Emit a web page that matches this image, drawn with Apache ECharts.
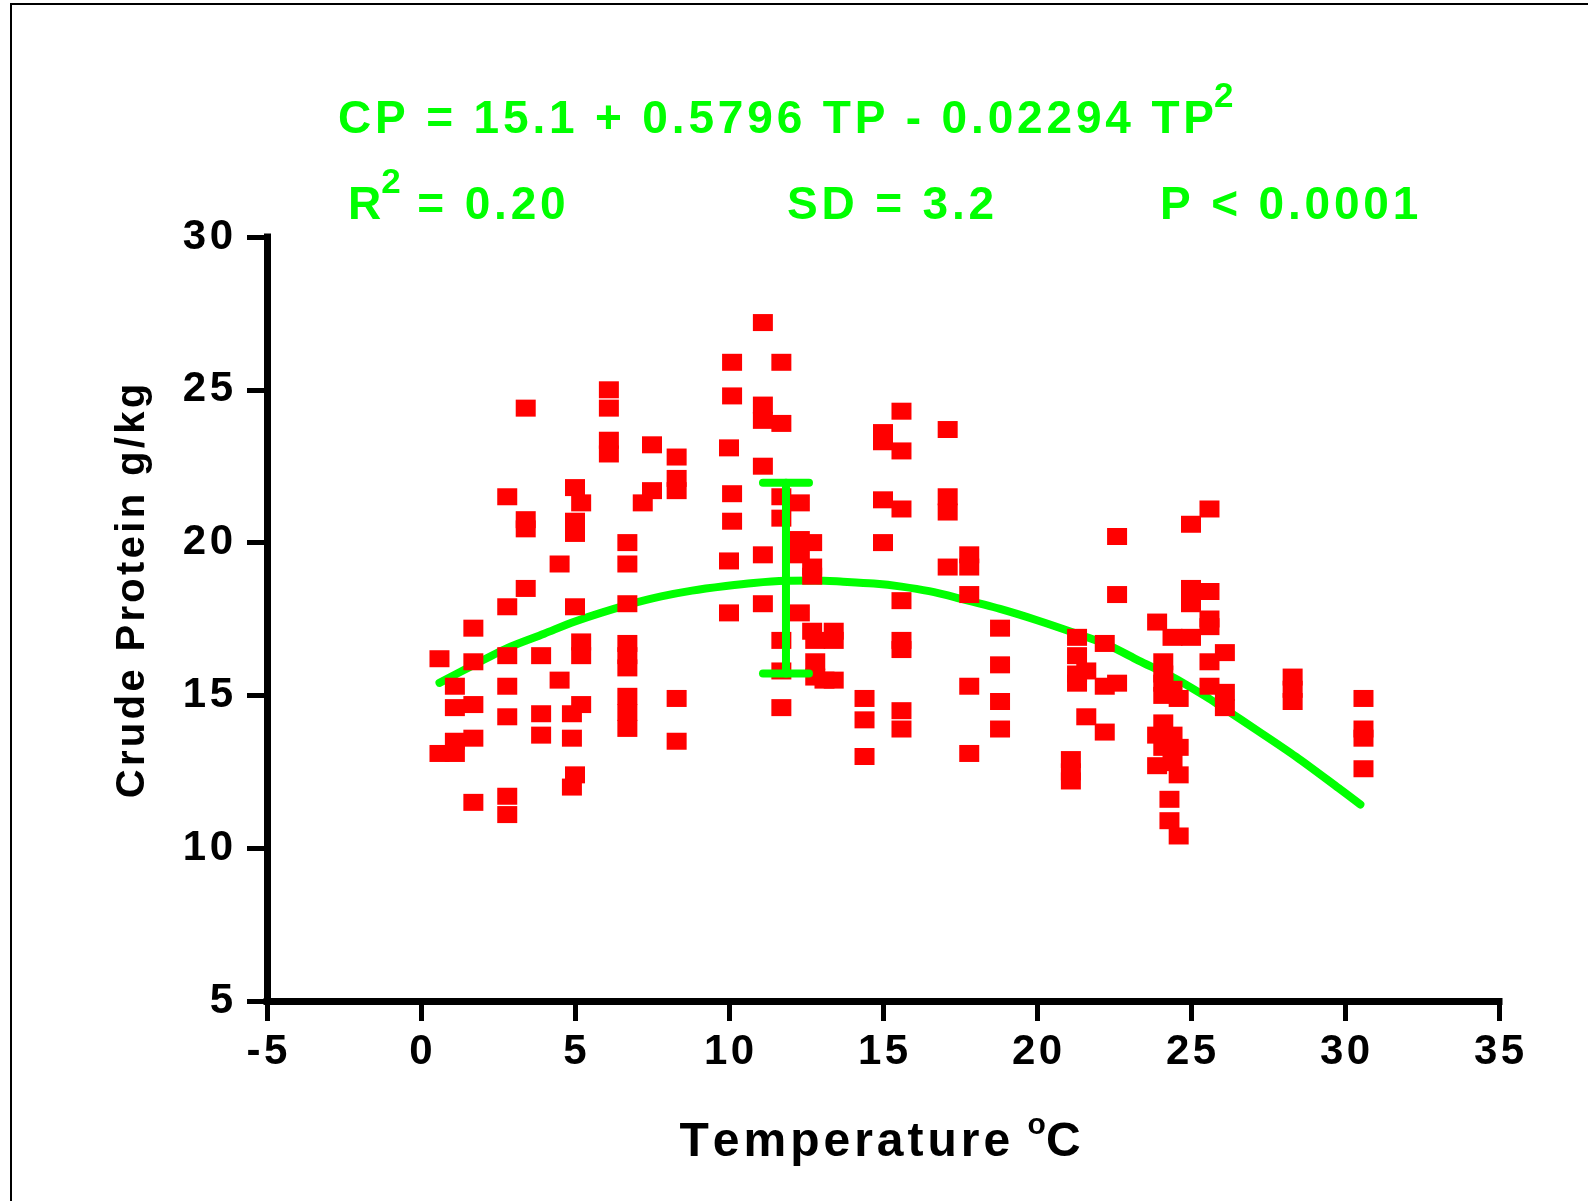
<!DOCTYPE html>
<html>
<head>
<meta charset="utf-8">
<script src="https://cdn.jsdelivr.net/npm/echarts@6/dist/echarts.min.js"></script>
<style>
html,body{margin:0;padding:0;background:#fff;}
#chart{width:1588px;height:1201px;}
</style>
</head>
<body>
<div id="chart"></div>
<script>
// ---- data ----
const xTicks = [-5, 0, 5, 10, 15, 20, 25, 30, 35];
const yTicks = [5, 10, 15, 20, 25, 30];

const tempValues = [
  3.4, 6.1, 6.1, 6.1, 6.1, 7.5, 5.0, 5.2, 7.5, 7.2, 2.8, 3.4, 3.4, 5.0, 5.0, 6.7, 6.7, 4.5, 3.4, 2.8,
  5.0, 6.7, 1.7, 0.6, 1.7, 2.8, 3.9, 5.2, 5.2, 6.7, 6.7, 6.7, 4.5, 1.1, 2.8, 1.1, 1.7, 3.9, 5.2, 4.9,
  6.7, 6.7, 6.7, 2.8, 1.1, 1.7, 0.6, 1.1, 3.9, 4.9, 5.0, 4.9, 1.7, 2.8, 2.8,
  8.3, 8.3, 8.3, 8.3, 8.3,
  11.1, 10.1, 11.7, 10.1, 11.1, 11.1, 11.7, 10.0, 11.1, 10.1, 11.7, 12.3, 10.1, 11.7, 12.3, 12.7, 12.3, 12.7, 12.7, 11.1,
  10.0, 11.1, 10.0, 12.3, 11.7, 12.7, 13.4, 12.8, 13.4, 12.8, 11.7, 12.8, 13.1, 13.4, 11.7, 14.4, 14.4, 14.4,
  15.0, 15.0, 15.0, 15.0, 15.6, 15.6, 15.6, 15.6, 15.6, 15.6, 15.6, 15.6,
  17.1, 17.1, 17.1, 17.1, 17.8, 17.8, 17.8, 17.8, 17.8, 18.8, 18.8, 18.8, 18.8, 22.6, 22.6, 21.3, 22.2, 21.3, 21.3, 21.6,
  21.3, 22.2, 22.6, 21.6, 22.2, 21.1, 21.1, 21.1,
  25.6, 25.0, 25.0, 25.0, 25.6, 25.6, 25.6, 23.9, 24.4, 25.0, 26.1, 25.6, 24.1, 24.1, 24.1, 24.1, 24.6, 24.4, 25.6, 26.1,
  26.1, 28.3, 28.3, 28.3, 30.6, 30.6, 30.6, 30.6,
  24.1, 23.9, 24.4, 24.1, 24.6, 23.9, 24.4, 24.6, 24.3, 24.3, 24.6
];
const proteinValues = [
  24.4, 25.0, 24.4, 23.35, 22.9, 23.2, 21.8, 21.3, 21.7, 21.3, 21.5, 20.75, 20.45, 20.7, 20.3, 20.0, 19.3, 19.3, 18.5, 17.9,
  17.9, 18.0, 17.2, 16.2, 16.1, 16.3, 16.3, 16.75, 16.3, 16.7, 16.3, 15.9, 15.5, 15.3, 15.3, 14.6, 14.7, 14.4, 14.7, 14.4,
  14.97, 14.44, 13.92, 14.3, 13.5, 13.6, 13.1, 13.1, 13.7, 13.6, 12.4, 12.0, 11.5, 11.7, 11.1,
  22.8, 22.1, 21.7, 14.9, 13.5,
  27.2, 25.9, 25.9, 24.8, 24.5, 24.0, 23.9, 23.1, 22.5, 21.6, 21.5, 21.3, 20.7, 20.8, 20.1, 20.0, 19.6, 19.2, 18.9, 19.6,
  19.4, 18.0, 17.7, 17.7, 16.8, 17.1, 17.1, 16.8, 16.8, 16.1, 15.8, 15.6, 15.5, 15.5, 14.6, 14.9, 14.2, 13.0,
  23.6, 23.3, 21.4, 20.0, 24.3, 23.0, 21.1, 18.1, 16.8, 16.5, 14.5, 13.9,
  23.7, 21.5, 21.0, 19.2, 19.6, 19.2, 18.3, 15.3, 13.1, 17.2, 16.0, 14.8, 13.9, 20.2, 18.3, 16.9, 16.7, 16.3, 15.7, 15.8,
  15.4, 15.3, 15.4, 14.3, 13.8, 12.9, 12.5, 12.2,
  21.1, 20.6, 18.5, 18.0, 18.4, 17.5, 17.25, 17.4, 16.9, 16.9, 16.4, 16.1, 16.1, 15.7, 15.4, 15.0, 14.9, 15.2, 15.3, 15.1,
  14.6, 15.6, 15.2, 14.8, 14.9, 13.9, 13.6, 12.6,
  14.1, 13.7, 13.7, 13.3, 13.3, 12.7, 12.8, 12.4, 11.6, 10.9, 10.4
];

// fitted curve, points
const curveTemp    = [0.6, 1.7, 2.8, 4.0, 5.0, 6.7, 7.8, 8.8, 9.9, 10.8, 11.85, 12.8, 13.7, 14.7, 15.6, 16.5, 17.5, 18.8, 20.0, 21.2, 22.3, 23.3, 24.4, 25.5, 26.0, 27.2, 28.4, 29.8, 30.5];
const curveProtein = [15.41, 15.99, 16.55, 17.02, 17.42, 17.96, 18.24, 18.43, 18.58, 18.68, 18.75, 18.76, 18.72, 18.66, 18.56, 18.41, 18.17, 17.83, 17.46, 17.05, 16.65, 16.14, 15.6, 14.95, 14.62, 13.82, 13.0, 11.96, 11.43];

// SD error bar: [temperature, low, high]
const errorBar = [[11.85, 15.72, 21.96]];

const eqText   = 'CP = 15.1 + 0.5796 TP - 0.02294 TP';
const r2Text   = ['R', '2', ' = 0.20'];
const sdText   = 'SD = 3.2';
const pText    = 'P < 0.0001';
const xTitle   = ['Temperature ', 'o', 'C'];
const yTitle   = 'Crude Protein g/kg';

// ---- build ----
const HS = '\u200A';
const sp = s => String(s).split('').join(HS);
const FONT = '"Liberation Sans", Arial, Helvetica, sans-serif';
const GREEN = '#00FF00';

const scatterData = tempValues.map((t, i) => [t, proteinValues[i]]);
const curveData = curveTemp.map((t, i) => [t, curveProtein[i]]);

const chart = echarts.init(document.getElementById('chart'), null, {renderer: 'canvas'});

const mainRich = (size, color, lh) => ({fontSize: size, fontWeight: 'bold', fontFamily: FONT, fill: color, lineHeight: lh, verticalAlign: 'middle'});
const supRich = (size, color, lh) => ({fontSize: size, fontWeight: 'bold', fontFamily: FONT, fill: color, lineHeight: lh, verticalAlign: 'top'});

const option = {
  backgroundColor: '#fff',
  animation: false,
  grid: {left: 267, right: 89, top: 237, bottom: 200, containLabel: false},
  xAxis: {
    type: 'value', min: -5, max: 35, interval: 5,
    axisLine: {show: true, onZero: false, lineStyle: {color: '#000', width: 7, cap: 'square'}},
    axisTick: {show: true, inside: false, length: 20, lineStyle: {color: '#000', width: 5}},
    axisLabel: {margin: 30, fontSize: 42, fontWeight: 'bold', fontFamily: FONT, color: '#000', formatter: v => sp(v)},
    splitLine: {show: false}
  },
  yAxis: {
    type: 'value', min: 5, max: 30, interval: 5,
    axisLine: {show: true, onZero: false, lineStyle: {color: '#000', width: 7, cap: 'square'}},
    axisTick: {show: true, inside: false, length: 20, lineStyle: {color: '#000', width: 5}},
    axisLabel: {margin: 34, fontSize: 42, fontWeight: 'bold', fontFamily: FONT, color: '#000', formatter: v => sp(v)},
    splitLine: {show: false}
  },
  series: [
    {
      type: 'line', data: curveData, smooth: 0.3, showSymbol: false, symbol: 'none', z: 2,
      lineStyle: {color: GREEN, width: 8, cap: 'round', join: 'round'}
    },
    {
      type: 'scatter', data: scatterData, symbol: 'rect', symbolSize: [20, 17], z: 3,
      itemStyle: {color: '#FF0000', opacity: 1}
    },
    {
      type: 'custom', data: errorBar, z: 4, encode: {x: 0, y: [1, 2]},
      renderItem: (params, api) => {
        const x = api.value(0), lo = api.value(1), hi = api.value(2);
        const a = api.coord([x, lo]), b = api.coord([x, hi]);
        const hw = 23;
        const st = {stroke: GREEN, lineWidth: 8, lineCap: 'round'};
        return {type: 'group', children: [
          {type: 'line', shape: {x1: a[0], y1: a[1], x2: b[0], y2: b[1]}, style: st},
          {type: 'line', shape: {x1: a[0] - hw, y1: a[1], x2: a[0] + hw, y2: a[1]}, style: st},
          {type: 'line', shape: {x1: b[0] - hw, y1: b[1], x2: b[0] + hw, y2: b[1]}, style: st}
        ]};
      }
    }
  ],
  graphic: [
    {type: 'rect', silent: true, shape: {x: 11, y: 4, width: 1700, height: 1300}, style: {fill: 'none', stroke: '#000', lineWidth: 2}},
    {type: 'text', x: 338, y: 120, style: {
      text: '{m|' + sp(eqText) + '}{s|2}', align: 'left', verticalAlign: 'middle',
      rich: {m: mainRich(46, GREEN, 80), s: supRich(35, GREEN, 24)}
    }},
    {type: 'text', x: 348, y: 206, style: {
      text: '{m|' + sp(r2Text[0]) + '}{s|' + r2Text[1] + '}{m|' + sp(r2Text[2]) + '}', align: 'left', verticalAlign: 'middle',
      rich: {m: mainRich(46, GREEN, 80), s: supRich(35, GREEN, 24)}
    }},
    {type: 'text', x: 787, y: 206, style: {
      text: '{m|' + sp(sdText) + '}', align: 'left', verticalAlign: 'middle',
      rich: {m: mainRich(46, GREEN, 60)}
    }},
    {type: 'text', x: 1160, y: 206, style: {
      text: '{m|' + sp(pText) + '}', align: 'left', verticalAlign: 'middle',
      rich: {m: mainRich(46, GREEN, 60)}
    }},
    {type: 'text', x: 880, y: 1143, style: {
      text: '{m|' + sp(xTitle[0]) + '}{s|' + xTitle[1] + '}{m|' + xTitle[2] + '}', align: 'center', verticalAlign: 'middle',
      rich: {m: mainRich(48, '#000', 64), s: supRich(30, '#000', 30)}
    }},
    {type: 'text', x: 133, y: 591, rotation: Math.PI / 2, style: {
      text: sp(yTitle), align: 'center', verticalAlign: 'middle',
      fontSize: 40, fontWeight: 'bold', fontFamily: FONT, fill: '#000'
    }}
  ]
};
chart.setOption(option);
</script>
</body>
</html>
